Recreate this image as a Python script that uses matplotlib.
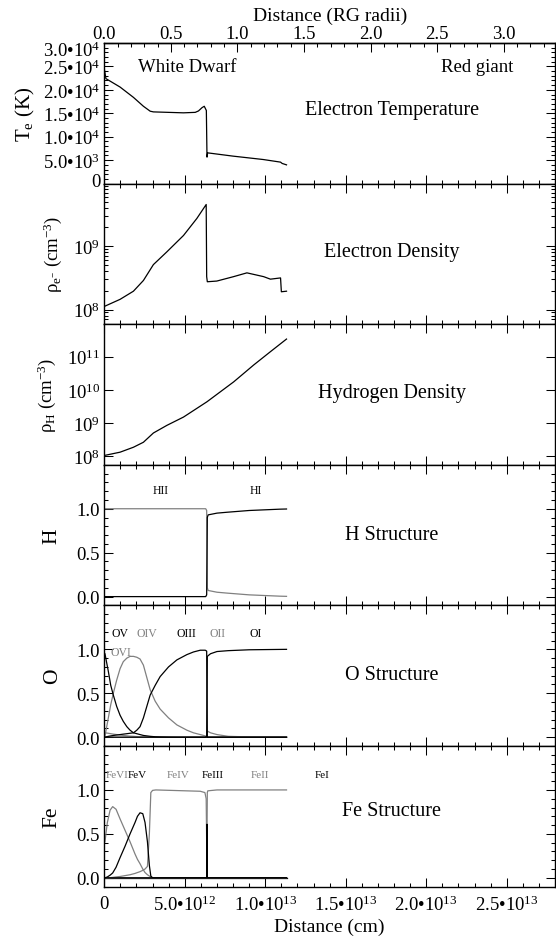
import numpy as np
import matplotlib
matplotlib.use("Agg")
import matplotlib.pyplot as plt
from matplotlib.ticker import FixedLocator, MultipleLocator, LogLocator, NullFormatter
from matplotlib.transforms import ScaledTranslation

plt.rcParams['font.family'] = ['Liberation Serif', 'DejaVu Serif']
plt.rcParams['mathtext.default'] = 'regular'
plt.rcParams['mathtext.fontset'] = 'custom'
plt.rcParams['mathtext.rm'] = 'Liberation Serif'
plt.rcParams['mathtext.it'] = 'Liberation Serif:italic'

# ---------------- data (distance in units of 1e12 cm) ----------------
te_x = [0.0, 0.1, 0.98, 1.81, 2.43, 2.85, 3.05, 4.92, 5.65, 5.85, 6.07, 6.21, 6.34, 6.38, 6.42, 8.0, 9.87, 10.95, 11.05, 11.32]
te_val = [24.5e3, 22.4e3, 20.6e3, 18.4e3, 16.5e3, 15.45e3, 15.3e3, 15.1e3, 15.2e3, 15.5e3, 16.2e3, 16.5e3, 15.6e3,
          5.65e3, 6.56e3, 5.86e3, 5.14e3, 4.58e3, 4.3e3, 4.0e3]

ne_x = [0.0, 0.98, 1.81, 2.43, 3.05, 3.88, 4.92, 5.75, 6.33, 6.36, 6.40, 6.99, 8.03, 8.86, 9.90, 10.32, 10.95, 11.0, 11.32]
ne_val = [1.12e8, 1.45e8, 1.95e8, 2.88e8, 5.13e8, 8.13e8, 1.48e9, 2.75e9, 4.57e9, 3.31e8, 2.75e8, 2.82e8,
          3.31e8, 3.80e8, 3.31e8, 3.02e8, 3.16e8, 1.91e8, 1.95e8]

nh_x = [0.0, 0.98, 1.81, 2.43, 3.05, 3.89, 4.92, 6.38, 8.04, 9.28, 10.32, 11.32]
nh_val = [1.05e8, 1.32e8, 1.86e8, 2.63e8, 5.0e8, 8.5e8, 1.51e9, 4.37e9, 1.74e10, 5.6e10, 1.41e11, 3.39e11]

h_x = [0.0, 6.30, 6.36, 6.40, 6.45, 7.0, 7.62, 9.0, 10.9, 11.32]
h_ii = [1.0, 1.0, 0.98, 0.10, 0.07, 0.05, 0.04, 0.02, 0.005, 0.003]
h_i = [0.0, 0.0, 0.02, 0.90, 0.93, 0.95, 0.96, 0.98, 0.995, 0.997]

o_x = [0.0, 0.04, 0.25, 0.40, 0.56, 0.77, 0.98, 1.18, 1.40, 1.60, 1.81, 2.02, 2.22, 2.43, 2.64, 2.85,
       3.16, 3.47, 3.99, 4.51, 5.13, 5.54, 5.96, 6.27, 6.36, 6.40, 6.6, 7.0, 7.7, 9.0, 11.32]
o_vi = [0.05, 0.05, 0.045, 0.04, 0.035, 0.03, 0.025, 0.02, 0.016, 0.012, 0.01, 0.007, 0.005, 0.003, 0.002,
        0.001] + [0.0] * 15
o_v = [0.96, 0.95, 0.75, 0.59, 0.48, 0.35, 0.25, 0.18, 0.12, 0.08, 0.05, 0.04, 0.03, 0.02, 0.015, 0.01,
       0.005, 0.003, 0.001] + [0.0] * 12
o_iv = [0.0, 0.01, 0.22, 0.37, 0.50, 0.65, 0.78, 0.86, 0.90, 0.92, 0.92, 0.91, 0.89, 0.82, 0.68, 0.54,
        0.41, 0.32, 0.22, 0.14, 0.08, 0.05, 0.03, 0.015, 0.01] + [0.0] * 6
o_iii = [0.0, 0.0, 0.01, 0.015, 0.02, 0.025, 0.03, 0.035, 0.04, 0.045, 0.05, 0.08, 0.12, 0.22, 0.35, 0.48,
         0.59, 0.69, 0.80, 0.88, 0.94, 0.97, 0.99, 0.99, 0.98] + [0.0] * 6
o_ii = [0.0] * 24 + [0.01, 0.07, 0.05, 0.03, 0.01, 0.003, 0.0]
o_i = [0.0] * 24 + [0.01, 0.92, 0.95, 0.975, 0.985, 0.995, 1.0]

fe_x = [0.0, 0.04, 0.19, 0.36, 0.52, 0.73, 0.98, 1.29, 1.60, 1.91, 2.06, 2.22, 2.39, 2.53, 2.68, 2.80,
        2.89, 3.0, 3.2, 5.96, 6.25, 6.33, 6.36, 6.38, 6.40, 6.43, 7.0, 11.32]
fe_vi = [0.40, 0.41, 0.63, 0.77, 0.81, 0.78, 0.67, 0.54, 0.41, 0.27, 0.21, 0.16, 0.10, 0.06, 0.035, 0.02,
         0.01, 0.0] + [0.0] * 10
fe_v = [0.0, 0.0, 0.01, 0.03, 0.055, 0.12, 0.23, 0.36, 0.50, 0.63, 0.70, 0.74, 0.73, 0.63, 0.41, 0.14,
        0.02, 0.0] + [0.0] * 10
fe_iv = [0.0, 0.0, 0.0, 0.002, 0.005, 0.01, 0.015, 0.025, 0.035, 0.05, 0.06, 0.07, 0.085, 0.10, 0.13, 0.50,
         0.97, 0.995, 1.0, 0.985, 0.97, 0.90, 0.40, 0.05, 0.0, 0.0, 0.0, 0.0]
fe_iii = [0.0] * 23 + [0.61, 0.0, 0.0, 0.0, 0.0]
fe_ii = [0.0] * 23 + [0.5, 0.97, 0.99, 1.0, 1.0]
fe_i = [0.0] * 28

RG_CM = 8.27e12          # one red-giant radius in cm
XMAX = 2.8e13
UNIT = 1e12

te_ticks = [0, 5e3, 1e4, 1.5e4, 2e4, 2.5e4, 3e4]
te_labels = ['0', '5.0•10$^{3}$', '1.0•10$^{4}$', '1.5•10$^{4}$', '2.0•10$^{4}$', '2.5•10$^{4}$', '3.0•10$^{4}$']
x_ticks = [0, 5e12, 1e13, 1.5e13, 2e13, 2.5e13]
x_labels = ['0', '5.0•10$^{12}$', '1.0•10$^{13}$', '1.5•10$^{13}$', '2.0•10$^{13}$', '2.5•10$^{13}$']
rg_ticks = [0.0, 0.5, 1.0, 1.5, 2.0, 2.5, 3.0]
rg_labels = ['0.0', '0.5', '1.0', '1.5', '2.0', '2.5', '3.0']

GRAY = '#808080'
W, H = 556, 937
TICKFS = 13.5

fig = plt.figure(figsize=(W / 100, H / 100), dpi=100)

left_px, width_px = 104.3, 450.7
top0, ph = 44.0, 140.6
axes = []
for i in range(6):
    top = top0 + i * ph
    ax = fig.add_axes([left_px / W, 1 - (top + ph) / H, width_px / W, ph / H])
    axes.append(ax)

def style(ax, top=True):
    for s in ax.spines.values():
        s.set_linewidth(1.0)
    ax.tick_params(which='both', direction='in', top=top, right=True, width=0.75,
                   labelsize=TICKFS, pad=3)
    ax.tick_params(which='major', length=6.5)
    ax.tick_params(which='minor', length=3.2)
    ax.set_xlim(0, XMAX)
    ax.xaxis.set_major_locator(FixedLocator(x_ticks))
    ax.xaxis.set_minor_locator(MultipleLocator(1e12))
    if ax is not axes[-1]:
        ax.tick_params(labelbottom=False)

def X(arr):
    return np.asarray(arr) * UNIT

lw = 0.9

# Panel 1: electron temperature
ax = axes[0]
style(ax, top=False)
ax.plot(X(te_x), te_val, color='k', lw=lw)
ax.set_ylim(0, 3e4)
ax.set_yticks(te_ticks)
ax.set_yticklabels(te_labels)
ax.yaxis.set_minor_locator(MultipleLocator(1e3))
sec = ax.secondary_xaxis('top', functions=(lambda x: x / RG_CM, lambda r: r * RG_CM))
sec.set_xticks(rg_ticks)
sec.set_xticklabels(rg_labels)
sec.xaxis.set_minor_locator(MultipleLocator(0.1))
sec.tick_params(which='both', direction='in', width=0.75, labelsize=TICKFS, pad=1)
sec.tick_params(which='major', length=6.5)
sec.tick_params(which='minor', length=3.2)
sec.spines['top'].set_linewidth(1.0)
sec.set_xlabel('Distance (RG radii)', fontsize=14, labelpad=3.5)
ax.text(0.183, 0.83, 'White Dwarf', transform=ax.transAxes, fontsize=13.5, ha='center', va='center')
ax.text(0.827, 0.83, 'Red giant', transform=ax.transAxes, fontsize=13.5, ha='center', va='center')

# Panel 2: electron density
ax = axes[1]
style(ax)
ax.plot(X(ne_x), ne_val, color='k', lw=lw)
ax.set_yscale('log')
ax.set_ylim(5.87e7, 9.77e9)
ax.set_yticks([1e8, 1e9])
ax.set_yticklabels(['10$^{8}$', '10$^{9}$'])
ax.yaxis.set_minor_locator(LogLocator(subs=np.arange(2, 10)))
ax.yaxis.set_minor_formatter(NullFormatter())
ax.tick_params(which='both', direction='in', right=True, labelsize=TICKFS)

# Panel 3: hydrogen density
ax = axes[2]
style(ax)
ax.plot(X(nh_x), nh_val, color='k', lw=lw)
ax.set_yscale('log')
ax.set_ylim(5.5e7, 9.5e11)
ax.set_yticks([1e8, 1e9, 1e10, 1e11])
ax.set_yticklabels(['10$^{8}$', '10$^{9}$', '10$^{10}$', '10$^{11}$'])
ax.yaxis.set_minor_locator(LogLocator(subs=np.arange(2, 10)))
ax.yaxis.set_minor_formatter(NullFormatter())
ax.tick_params(which='both', direction='in', right=True, labelsize=TICKFS)

# structure panels
def frac_axis(ax):
    ax.set_ylim(-0.1, 1.5)
    ax.set_yticks([0.0, 0.5, 1.0])
    ax.set_yticklabels(['0.0', '0.5', '1.0'])
    ax.yaxis.set_minor_locator(MultipleLocator(0.1))

ax = axes[3]
style(ax)
frac_axis(ax)
ax.plot(X(h_x), h_ii, color=GRAY, lw=lw)
ax.plot(X(h_x), h_i, color='k', lw=lw)
for lab, xc in [('HII', 3.51), ('HI', 9.39)]:
    ax.text(xc * UNIT, 1.21, lab, fontsize=8.5, ha='center', va='center', color='k')

ax = axes[4]
style(ax)
frac_axis(ax)
for vals, c in [(o_vi, GRAY), (o_iv, GRAY), (o_ii, GRAY), (o_v, 'k'), (o_iii, 'k'), (o_i, 'k')]:
    ax.plot(X(o_x), vals, color=c, lw=lw)
for lab, xc, yc, c in [('OV', 0.98, 1.19, 'k'), ('OIV', 2.64, 1.19, GRAY), ('OIII', 5.13, 1.19, 'k'),
                       ('OII', 7.02, 1.19, GRAY), ('OI', 9.39, 1.19, 'k'), ('OVI', 1.03, 0.97, GRAY)]:
    ax.text(xc * UNIT, yc, lab, fontsize=8.5, ha='center', va='center', color=c)

ax = axes[5]
style(ax)
frac_axis(ax)
for vals, c in [(fe_i, 'k'), (fe_vi, GRAY), (fe_iv, GRAY), (fe_ii, GRAY), (fe_v, 'k'), (fe_iii, 'k')]:
    ax.plot(X(fe_x), vals, color=c, lw=lw)
ax.text(0.1 * UNIT, 1.18, 'FeVI', fontsize=8, ha='left', va='center', color=GRAY)
for lab, xc, c in [('FeV', 2.06, 'k'), ('FeIV', 4.59, GRAY), ('FeIII', 6.74, 'k'),
                   ('FeII', 9.64, GRAY), ('FeI', 13.5, 'k')]:
    ax.text(xc * UNIT, 1.18, lab, fontsize=8, ha='center', va='center', color=c)
ax.set_xticklabels(x_labels)
ax.tick_params(axis='x', which='both', pad=6)
ax.set_xlabel('Distance (cm)', fontsize=14, labelpad=2.5)

# panel titles
titles = ['Electron Temperature', 'Electron Density', 'Hydrogen Density', 'H Structure', 'O Structure', 'Fe Structure']
title_y = [110, 252, 394, 535, 676, 811]
for t, ty in zip(titles, title_y):
    fig.text(392 / W, 1 - ty / H, t, fontsize=14.5, ha='center', va='center')

# y labels
ylabels = ['T$_{e}$ (K)', 'ρ$_{e^{-}}$ (cm$^{-3}$)', 'ρ$_{H}$ (cm$^{-3}$)', 'H', 'O', 'Fe']
ylab_x = [25, 53, 47, 52, 53, 52]
ylab_fs = [15, 13.5, 13.5, 15.5, 15.5, 15.5]
for i, (lab, lx, fs) in enumerate(zip(ylabels, ylab_x, ylab_fs)):
    cy = top0 + i * ph + ph / 2
    fig.text(lx / W, 1 - cy / H, lab, fontsize=fs, rotation=90, ha='center', va='center')

# end labels of the temperature axis are nudged inside the axis range
te_major = axes[0].yaxis.get_major_ticks()
lab_top = te_major[-1].label1
lab_top.set_transform(lab_top.get_transform() + ScaledTranslation(0, -0.05, fig.dpi_scale_trans))
lab_bot = te_major[0].label1
lab_bot.set_transform(lab_bot.get_transform() + ScaledTranslation(0, 0.045, fig.dpi_scale_trans))

fig.savefig('out.png', dpi=100)
